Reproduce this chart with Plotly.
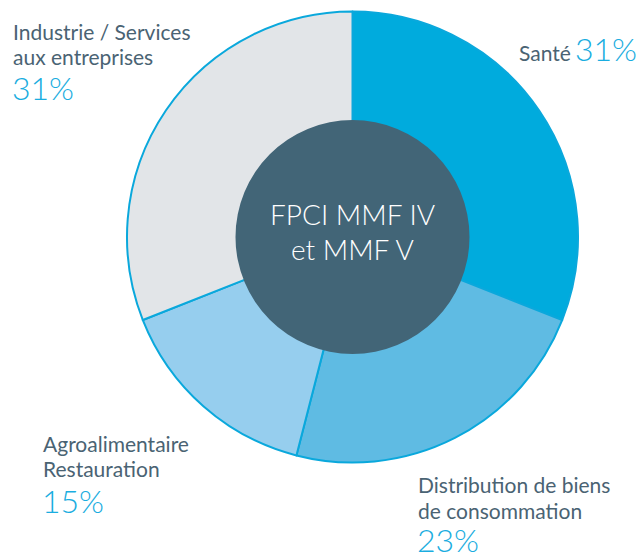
import plotly.graph_objects as go

W, H = 644, 556

categories = ["Santé", "Distribution de biens de consommation", "Agroalimentaire Restauration", "Industrie / Services aux entreprises"]
label_lines = [["Santé"], ["Distribution de biens", "de consommation"], ["Agroalimentaire", "Restauration"], ["Industrie / Services", "aux entreprises"]]
values = [31, 23, 15, 31]
slice_colors = ["#00ABDD", "#5FBBE3", "#96CEEE", "#E2E5E8"]
center_text = ["FPCI MMF IV", "et MMF V"]

LABEL_COLOR = "#4A6373"
PCT_COLOR = "#1AADE0"
FONT = "Lato"

cx, cy, R = 352.5, 237, 225.5
r_in = 117

def px(x):
    return x / W

def py(y):
    return 1 - y / H

fig = go.Figure()
fig.add_trace(go.Pie(
    labels=categories, values=values, sort=False, direction="clockwise", rotation=0,
    marker=dict(colors=slice_colors, line=dict(color="#0AA8DC", width=2)),
    textinfo="none", hoverinfo="label+percent", showlegend=False,
    domain=dict(x=[px(cx - R), px(cx + R)], y=[py(cy + R), py(cy - R)]),
))

fig.add_shape(type="circle", xref="paper", yref="paper", layer="above",
              x0=px(cx - r_in), x1=px(cx + r_in), y0=py(cy + r_in), y1=py(cy - r_in),
              fillcolor="#426577", line=dict(width=0))

ann = []

def text_at(x, baseline, txt, size, color, xanchor="left", weight=400):
    mid = baseline - 0.387 * size
    ann.append(dict(x=px(x), y=py(mid), xref="paper", yref="paper", text=txt,
                    xanchor=xanchor, yanchor="middle", showarrow=False,
                    font=dict(family=FONT, size=size, color=color, weight=weight)))

LS = 21
PS = 32
# Santé
text_at(573, 61, label_lines[0][0], LS, LABEL_COLOR, xanchor="right")
text_at(639, 61, f"{values[0]}%", PS, PCT_COLOR, xanchor="right", weight=300)
# Distribution
text_at(416, 493, label_lines[1][0], LS, LABEL_COLOR)
text_at(416, 519, label_lines[1][1], LS, LABEL_COLOR)
text_at(415, 552, f"{values[1]}%", PS, PCT_COLOR, weight=300)
# Agro
text_at(41, 452, label_lines[2][0], LS, LABEL_COLOR)
text_at(41, 477, label_lines[2][1], LS, LABEL_COLOR)
text_at(40, 513, f"{values[2]}%", PS, PCT_COLOR, weight=300)
# Industrie
text_at(11, 40, label_lines[3][0], LS, LABEL_COLOR)
text_at(11, 65, label_lines[3][1], LS, LABEL_COLOR)
text_at(10, 100, f"{values[3]}%", PS, PCT_COLOR, weight=300)
# Center
text_at(cx, 225, center_text[0], 28, "#FFFFFF", xanchor="center", weight=300)
text_at(cx, 260, center_text[1], 28, "#FFFFFF", xanchor="center", weight=300)

fig.update_layout(width=W, height=H, margin=dict(l=0, r=0, t=0, b=0),
                  paper_bgcolor="white", plot_bgcolor="white", annotations=ann)

fig.write_html("out.html", config={"displayModeBar": False},
               post_script="document.body.style.margin='0px';")
